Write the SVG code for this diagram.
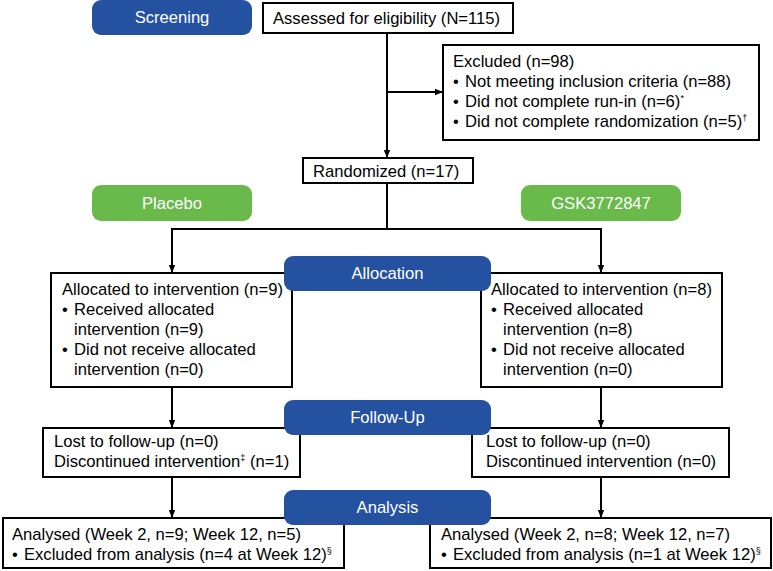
<svg xmlns="http://www.w3.org/2000/svg" width="773" height="571" viewBox="0 0 773 571">
<style>
.box{fill:#fff;stroke:#000;stroke-width:2}
.t{font-family:"Liberation Sans",Arial,sans-serif;font-size:16.6px;fill:#000}
.pt{font-family:"Liberation Sans",Arial,sans-serif;font-size:16.6px;fill:#fff;text-anchor:middle}
.blue{fill:#2451A0}
.green{fill:#6AB94B}
.ln{fill:none;stroke:#000;stroke-width:2}
.sup{font-size:9px}
</style>
<defs>
<marker id="a" viewBox="0 0 10 10" refX="10" refY="5" markerWidth="8" markerHeight="8" orient="auto" markerUnits="userSpaceOnUse"><path d="M0,1 L10,5 L0,9 z" fill="#000"/></marker>
</defs>
<g id="connectors">
<path class="ln" d="M387,33 V158" marker-end="url(#a)"/>
<path class="ln" d="M387,92 H443" marker-end="url(#a)"/>
<path class="ln" d="M387,183 V229 M172,229 H601"/>
<path class="ln" d="M172,228 V273" marker-end="url(#a)"/>
<path class="ln" d="M601,228 V273" marker-end="url(#a)"/>
<path class="ln" d="M172,387 V428" marker-end="url(#a)"/>
<path class="ln" d="M601,387 V428" marker-end="url(#a)"/>
<path class="ln" d="M172,477 V518" marker-end="url(#a)"/>
<path class="ln" d="M601,477 V518" marker-end="url(#a)"/>
</g>
<g id="assessed"><rect class="box" x="263" y="3" width="250" height="30"/><text class="t" x="273" y="24">Assessed for eligibility (N=115)</text></g>
<g id="excluded"><rect class="box" x="443" y="45" width="316" height="95"/>
<text class="t" x="453" y="67">Excluded (n=98)</text>
<text class="t" x="453" y="87">•</text><text class="t" x="465" y="87">Not meeting inclusion criteria (n=88)</text>
<text class="t" x="453" y="107">•</text><text class="t" x="465" y="107">Did not complete run-in (n=6)<tspan class="sup" dy="-6">*</tspan></text>
<text class="t" x="453" y="127">•</text><text class="t" x="465" y="127">Did not complete randomization (n=5)<tspan class="sup" dy="-6">†</tspan></text>
</g>
<g id="randomized"><rect class="box" x="303" y="158" width="170" height="25"/><text class="t" x="313" y="177">Randomized (n=17)</text></g>
<g id="alloc-placebo"><rect class="box" x="51" y="273" width="241" height="114"/>
<text class="t" x="62" y="295">Allocated to intervention (n=9)</text>
<text class="t" x="62" y="315">•</text><text class="t" x="74" y="315">Received allocated</text>
<text class="t" x="74" y="335">intervention (n=9)</text>
<text class="t" x="62" y="355">•</text><text class="t" x="74" y="355">Did not receive allocated</text>
<text class="t" x="74" y="375">intervention (n=0)</text>
</g>
<g id="alloc-gsk"><rect class="box" x="481" y="273" width="241" height="114"/>
<text class="t" x="491" y="295">Allocated to intervention (n=8)</text>
<text class="t" x="491" y="315">•</text><text class="t" x="503" y="315">Received allocated</text>
<text class="t" x="503" y="335">intervention (n=8)</text>
<text class="t" x="491" y="355">•</text><text class="t" x="503" y="355">Did not receive allocated</text>
<text class="t" x="503" y="375">intervention (n=0)</text>
</g>
<g id="fu-placebo"><rect class="box" x="43" y="428" width="257" height="49"/>
<text class="t" x="54" y="447">Lost to follow-up (n=0)</text>
<text class="t" x="54" y="467">Discontinued intervention<tspan class="sup" dy="-6">‡</tspan><tspan dy="6"> (n=1)</tspan></text>
</g>
<g id="fu-gsk"><rect class="box" x="472" y="428" width="257" height="49"/>
<text class="t" x="486" y="447">Lost to follow-up (n=0)</text>
<text class="t" x="486" y="467">Discontinued intervention (n=0)</text>
</g>
<g id="an-placebo"><rect class="box" x="3" y="518" width="341" height="50"/>
<text class="t" x="12" y="540">Analysed (Week 2, n=9; Week 12, n=5)</text>
<text class="t" x="12" y="560">•</text><text class="t" x="24" y="560">Excluded from analysis (n=4 at Week 12)<tspan class="sup" dy="-6">§</tspan></text>
</g>
<g id="an-gsk"><rect class="box" x="430" y="518" width="341" height="50"/>
<text class="t" x="441" y="540">Analysed (Week 2, n=8; Week 12, n=7)</text>
<text class="t" x="441" y="560">•</text><text class="t" x="453" y="560">Excluded from analysis (n=1 at Week 12)<tspan class="sup" dy="-6">§</tspan></text>
</g>
<g id="screening"><rect class="blue" x="92" y="0" width="160" height="35" rx="9"/><text class="pt" x="172" y="23">Screening</text></g>
<g id="placebo"><rect class="green" x="92" y="185" width="160" height="36" rx="9"/><text class="pt" x="172" y="209">Placebo</text></g>
<g id="gsk"><rect class="green" x="521" y="185" width="160" height="36" rx="9"/><text class="pt" x="601" y="209">GSK3772847</text></g>
<g id="allocation"><rect class="blue" x="284" y="256" width="207" height="35" rx="9"/><text class="pt" x="387.5" y="279">Allocation</text></g>
<g id="followup"><rect class="blue" x="284" y="400" width="207" height="35" rx="9"/><text class="pt" x="387.5" y="423">Follow-Up</text></g>
<g id="analysis"><rect class="blue" x="284" y="490" width="207" height="35" rx="9"/><text class="pt" x="387.5" y="513">Analysis</text></g>
</svg>
